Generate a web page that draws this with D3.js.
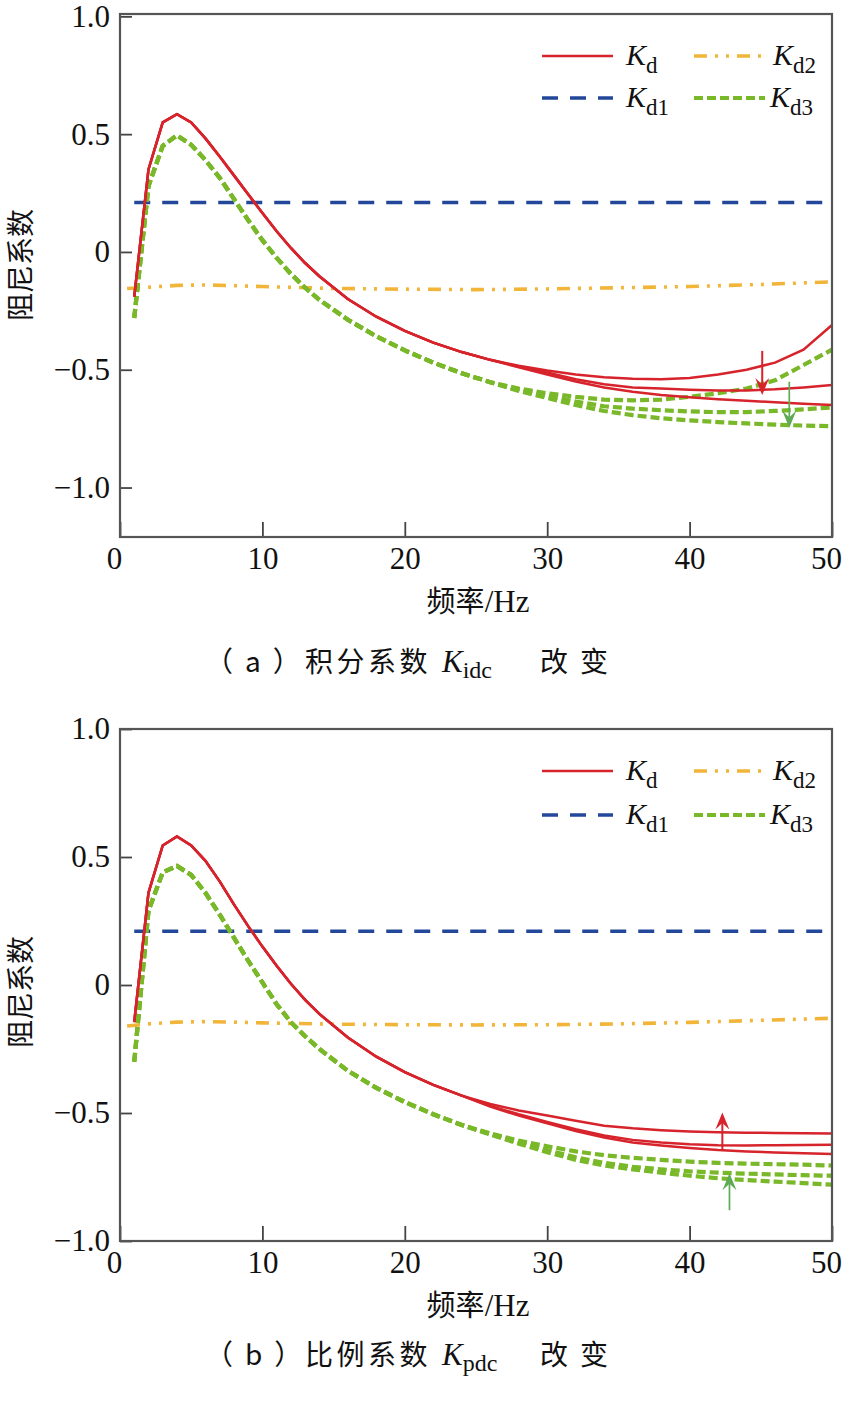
<!DOCTYPE html>
<html><head><meta charset="utf-8">
<script src="https://cdn.jsdelivr.net/npm/d3@7"></script>
<style>body{margin:0;background:#fff}</style>
</head><body>
<svg id="chart" width="842" height="1403"></svg>
<script>
// ---------- data ----------
const freq = [1,2,3,4,5,6,7,8,9,10,11,12,13,14,16,18,20,22,24,26,28,30,32,34,36,38,40,42,44,46,48,50];

// panel (a): integral gain Kidc changes
const kdA1 = [-0.19,0.35,0.55,0.585,0.55,0.482,0.405,0.325,0.245,0.165,0.088,0.017,-0.047,-0.103,-0.2,-0.275,-0.335,-0.385,-0.425,-0.458,-0.483,-0.503,-0.52,-0.532,-0.538,-0.54,-0.535,-0.52,-0.50,-0.47,-0.415,-0.31];
const kdA2 = [-0.19,0.35,0.55,0.585,0.55,0.482,0.405,0.325,0.245,0.165,0.088,0.017,-0.047,-0.103,-0.2,-0.275,-0.335,-0.385,-0.425,-0.458,-0.487,-0.512,-0.54,-0.562,-0.575,-0.58,-0.585,-0.588,-0.588,-0.583,-0.575,-0.565];
const kdA3 = [-0.19,0.35,0.55,0.585,0.55,0.482,0.405,0.325,0.245,0.165,0.088,0.017,-0.047,-0.103,-0.2,-0.275,-0.335,-0.385,-0.425,-0.458,-0.49,-0.52,-0.55,-0.575,-0.593,-0.607,-0.617,-0.625,-0.632,-0.638,-0.644,-0.65];
const kd3A1 = [-0.28,0.28,0.45,0.495,0.455,0.39,0.315,0.225,0.135,0.05,-0.025,-0.093,-0.152,-0.203,-0.288,-0.358,-0.418,-0.47,-0.515,-0.553,-0.58,-0.60,-0.615,-0.627,-0.63,-0.627,-0.615,-0.60,-0.58,-0.545,-0.48,-0.415];
const kd3A2 = [-0.28,0.28,0.45,0.495,0.455,0.39,0.315,0.225,0.135,0.05,-0.025,-0.093,-0.152,-0.203,-0.288,-0.358,-0.418,-0.47,-0.515,-0.553,-0.585,-0.61,-0.635,-0.655,-0.665,-0.672,-0.677,-0.68,-0.68,-0.675,-0.668,-0.66];
const kd3A3 = [-0.28,0.28,0.45,0.495,0.455,0.39,0.315,0.225,0.135,0.05,-0.025,-0.093,-0.152,-0.203,-0.288,-0.358,-0.418,-0.47,-0.515,-0.553,-0.59,-0.62,-0.65,-0.675,-0.693,-0.706,-0.715,-0.722,-0.728,-0.733,-0.737,-0.74];

// panel (b): proportional gain Kpdc changes
const kdB1 = [-0.145,0.36,0.545,0.58,0.545,0.485,0.405,0.315,0.23,0.15,0.075,0.005,-0.058,-0.113,-0.205,-0.28,-0.34,-0.39,-0.432,-0.465,-0.49,-0.51,-0.53,-0.55,-0.56,-0.567,-0.572,-0.575,-0.577,-0.578,-0.579,-0.58];
const kdB2 = [-0.145,0.36,0.545,0.58,0.545,0.485,0.405,0.315,0.23,0.15,0.075,0.005,-0.058,-0.113,-0.205,-0.28,-0.34,-0.39,-0.432,-0.472,-0.505,-0.535,-0.563,-0.588,-0.605,-0.615,-0.622,-0.626,-0.627,-0.626,-0.625,-0.624];
const kdB3 = [-0.145,0.36,0.545,0.58,0.545,0.485,0.405,0.315,0.23,0.15,0.075,0.005,-0.058,-0.113,-0.205,-0.28,-0.34,-0.39,-0.432,-0.475,-0.51,-0.54,-0.57,-0.596,-0.615,-0.627,-0.637,-0.645,-0.65,-0.654,-0.657,-0.66];
const kd3B1 = [-0.30,0.29,0.44,0.465,0.43,0.36,0.275,0.185,0.095,0.01,-0.075,-0.145,-0.2,-0.25,-0.335,-0.402,-0.457,-0.505,-0.547,-0.58,-0.608,-0.63,-0.65,-0.665,-0.675,-0.683,-0.69,-0.695,-0.698,-0.70,-0.702,-0.705];
const kd3B2 = [-0.30,0.29,0.44,0.465,0.43,0.36,0.275,0.185,0.095,0.01,-0.075,-0.145,-0.2,-0.25,-0.335,-0.402,-0.457,-0.505,-0.547,-0.582,-0.615,-0.645,-0.673,-0.695,-0.71,-0.72,-0.728,-0.733,-0.737,-0.74,-0.743,-0.745];
const kd3B3 = [-0.30,0.29,0.44,0.465,0.43,0.36,0.275,0.185,0.095,0.01,-0.075,-0.145,-0.2,-0.25,-0.335,-0.402,-0.457,-0.505,-0.547,-0.584,-0.62,-0.653,-0.683,-0.705,-0.72,-0.733,-0.745,-0.755,-0.762,-0.768,-0.774,-0.78];

const kd1Freq = [1, 50];
const kd1A = [0.21, 0.21];
const kd1B = [0.21, 0.21];

const kd2Freq = [0.5,2,4,6,8,10,15,20,25,30,35,40,45,50];
const kd2A = [-0.155,-0.15,-0.142,-0.14,-0.143,-0.147,-0.155,-0.158,-0.16,-0.157,-0.152,-0.147,-0.138,-0.127];
const kd2B = [-0.16,-0.152,-0.145,-0.143,-0.145,-0.148,-0.153,-0.155,-0.156,-0.155,-0.152,-0.146,-0.138,-0.13];

// arrows: [frequency, from value, to value, colour]
const arrowsA = [[45.1,-0.42,-0.607,"red"],[47.0,-0.551,-0.746,"green"]];
const arrowsB = [[42.3,-0.647,-0.498,"red"],[42.8,-0.88,-0.735,"green"]];

const xTicks = [0,10,20,30,40,50];
const xTickLabels = ["0","10","20","30","40","50"];
const yTicks = [-1.0,-0.5,0,0.5,1.0];
const yTickLabels = ["\u22121.0","\u22120.5","0","0.5","1.0"];

const legendNames = ["d","d1","d2","d3"];

// ---------- drawing ----------
const svg = d3.select("#chart");
const SERIF = "'Liberation Serif','Times New Roman',serif";
const CJK = "'Noto Sans CJK SC','Noto Sans',sans-serif";

const styles = {
  kd:  {stroke:"#d7232b", width:2.5, dash:null},
  kd1: {stroke:"#23489a", width:3.6, dash:"16,12"},
  kd2: {stroke:"#f1b53a", width:3.6, dash:"13,8,3,8,3,8"},
  kd3: {stroke:"#79b829", width:4.2, dash:"9,4"}
};
const arrowColors = {red:"#d7232b", green:"#5fab55"};

const x = d3.scaleLinear().domain([0,50]).range([120,832]);

function drawPanel(cfg){
  const y = d3.scaleLinear().domain(cfg.yDomain).range([cfg.bottom, cfg.top]);
  const g = svg.append("g");
  const line = d3.line().x(d=>x(d[0])).y(d=>y(d[1]));
  const draw = (fx, vals, st) => {
    g.append("path").datum(fx.map((f,i)=>[f, vals[i]]))
      .attr("d", line).attr("fill","none")
      .attr("stroke", st.stroke).attr("stroke-width", st.width)
      .attr("stroke-dasharray", st.dash);
  };
  draw(kd1Freq, cfg.kd1, styles.kd1);
  draw(kd2Freq, cfg.kd2, styles.kd2);
  cfg.kd3.forEach(v => draw(freq, v, styles.kd3));
  cfg.kd.forEach(v => draw(freq, v, styles.kd));

  // arrows
  cfg.arrows.forEach(a => {
    const ax = x(a[0]), y0 = y(a[1]), y1 = y(a[2]);
    const dir = y1 > y0 ? 1 : -1;
    const col = arrowColors[a[3]];
    const hl = 17, hw = 7;
    g.append("line").attr("x1",ax).attr("x2",ax).attr("y1",y0).attr("y2",y1 - dir*hl*0.6)
      .attr("stroke",col).attr("stroke-width", a[3]==="red"?2:1.7);
    g.append("path")
      .attr("d", `M${ax},${y1} L${ax-hw},${y1-dir*hl} L${ax},${y1-dir*hl*0.62} L${ax+hw},${y1-dir*hl} Z`)
      .attr("fill",col);
  });

  // axes
  const xa = g.append("g").attr("transform",`translate(0,${cfg.bottom})`)
    .call(d3.axisBottom(x).tickValues(xTicks).tickSize(-15).tickPadding(10)
      .tickFormat((d,i)=>xTickLabels[i]));
  const ya = g.append("g").attr("transform",`translate(120,0)`)
    .call(d3.axisLeft(y).tickValues(yTicks).tickSize(-12).tickPadding(10)
      .tickFormat((d,i)=>yTickLabels[i]));
  [xa, ya].forEach(a => {
    a.select(".domain").remove();
    a.selectAll(".tick line").attr("stroke","#444").attr("stroke-width",1.8);
    a.selectAll(".tick text").attr("font-family",SERIF).attr("font-size",31).attr("fill","#111");
  });
  xa.selectAll(".tick text").attr("dy","0.71em")
    .attr("dx",(d,i)=> i===0 ? -6 : (i===xTicks.length-1 ? -6 : 0));
  g.append("rect").attr("x",120).attr("y",cfg.top).attr("width",712).attr("height",cfg.bottom-cfg.top)
    .attr("fill","none").attr("stroke","#555").attr("stroke-width",2.2);

  // axis titles
  g.append("text").attr("transform",`translate(21,${cfg.ylabY}) rotate(-90)`)
    .attr("text-anchor","middle").attr("dy","0.36em").attr("font-family",CJK).attr("font-size",28).attr("fill","#111")
    .text("阻尼系数");
  const xt = g.append("text").attr("x",478).attr("y",cfg.bottom+75).attr("text-anchor","middle")
    .attr("fill","#111").attr("font-size",29);
  xt.append("tspan").attr("font-family",CJK).text("频率");
  xt.append("tspan").attr("font-family",SERIF).attr("font-size",31).text("/Hz");

  // legend
  const legPos = [[542,cfg.leg1],[542,cfg.leg2],[694,cfg.leg1],[694,cfg.leg2]];
  const legSt = [styles.kd, styles.kd1, styles.kd2, styles.kd3];
  const textX = [626, 626, 773, 770];
  legPos.forEach((p,i) => {
    g.append("line").attr("x1",p[0]).attr("x2",p[0]+71).attr("y1",p[1]).attr("y2",p[1])
      .attr("stroke",legSt[i].stroke).attr("stroke-width",legSt[i].width)
      .attr("stroke-dasharray",legSt[i].dash);
    const t = g.append("text").attr("x",textX[i]).attr("y",p[1]+9).attr("font-family",SERIF).attr("fill","#111");
    t.append("tspan").attr("font-style","italic").attr("font-size",30).text("K");
    t.append("tspan").attr("font-size",23).attr("dy",8).text(legendNames[i]);
  });

  // caption
  const cap = g.append("text").attr("y",cfg.capY).attr("fill","#111").attr("font-size",28);
  cap.append("tspan").attr("x",205).attr("font-family",CJK).attr("letter-spacing",12).text(cfg.capTag);
  cap.append("tspan").attr("x",305).attr("font-family",CJK).attr("letter-spacing",3.5).text(cfg.capName);
  cap.append("tspan").attr("x",442).attr("font-family",SERIF).attr("font-style","italic").attr("font-size",31).text("K");
  cap.append("tspan").attr("font-family",SERIF).attr("font-size",24).attr("dy",6).text(cfg.capSub);
  cap.append("tspan").attr("x",540).attr("font-family",CJK).attr("letter-spacing",12).attr("dy",-6).text("改变");
}

drawPanel({top:14, bottom:537, yDomain:[-1.21,1.01], kd:[kdA1,kdA2,kdA3], kd3:[kd3A1,kd3A2,kd3A3],
  kd1:kd1A, kd2:kd2A, arrows:arrowsA, leg1:56, leg2:98, ylabY:265,
  capY:672, capTag:"（a）", capName:"积分系数", capSub:"idc"});
drawPanel({top:729, bottom:1241, yDomain:[-1.0,1.0], kd:[kdB1,kdB2,kdB3], kd3:[kd3B1,kd3B2,kd3B3],
  kd1:kd1B, kd2:kd2B, arrows:arrowsB, leg1:771, leg2:815, ylabY:992,
  capY:1365, capTag:"（b）", capName:"比例系数", capSub:"pdc"});
</script>
</body></html>
